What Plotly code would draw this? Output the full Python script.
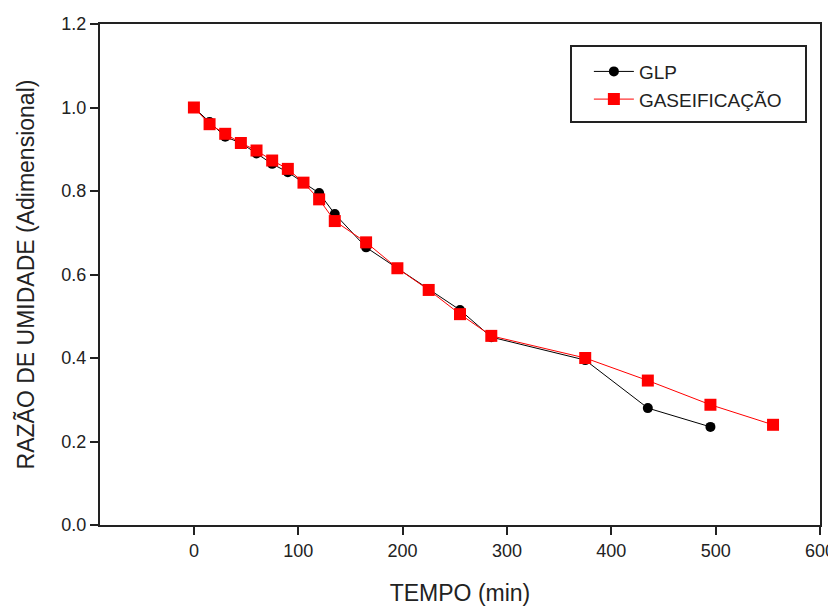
import plotly.graph_objects as go

tempo_glp = [0, 15, 30, 45, 60, 75, 90, 105, 120, 135, 165, 195, 225, 255, 285, 375, 435, 495]
glp = [1.0, 0.965, 0.93, 0.915, 0.89, 0.865, 0.845, 0.82, 0.795, 0.745, 0.665, 0.615, 0.565, 0.515, 0.45, 0.395, 0.28, 0.235]

tempo_gas = [0, 15, 30, 45, 60, 75, 90, 105, 120, 135, 165, 195, 225, 255, 285, 375, 435, 495, 555]
gas = [1.0, 0.96, 0.937, 0.915, 0.897, 0.873, 0.853, 0.82, 0.78, 0.728, 0.677, 0.615, 0.563, 0.505, 0.453, 0.4, 0.346, 0.288, 0.24]

xticks = [0, 100, 200, 300, 400, 500, 600]
yticks = [0.0, 0.2, 0.4, 0.6, 0.8, 1.0, 1.2]

FONT = "Liberation Sans, Arial"

fig = go.Figure()
fig.add_trace(go.Scatter(x=tempo_glp, y=glp, mode="lines+markers", name="GLP",
                         line=dict(color="black", width=1),
                         marker=dict(symbol="circle", size=10, color="black")))
fig.add_trace(go.Scatter(x=tempo_gas, y=gas, mode="lines+markers", name="GASEIFICAÇÃO",
                         line=dict(color="red", width=1),
                         marker=dict(symbol="square", size=12, color="red")))

axis_common = dict(showline=True, linecolor="#222", linewidth=2, mirror=True,
                   ticks="outside", ticklen=8, tickcolor="#222", tickwidth=2,
                   showgrid=False, zeroline=False, automargin=False,
                   tickfont=dict(family=FONT, size=18, color="#222"))

fig.update_layout(
    width=828, height=598,
    paper_bgcolor="white", plot_bgcolor="white",
    margin=dict(l=92, r=16, t=16, b=81),
    font=dict(family=FONT, color="#222"),
    xaxis=dict(range=[-90, 600], tickvals=xticks, ticktext=[str(v) for v in xticks],
               title=dict(text="TEMPO (min)", font=dict(size=23), standoff=25), **axis_common),
    yaxis=dict(range=[0, 1.2], tickvals=yticks, ticktext=[f"{v:.1f}" for v in yticks],
               title=dict(text="RAZÃO DE UMIDADE (Adimensional)", font=dict(size=23), standoff=20),
               **axis_common),
    legend=dict(x=0.679, y=0.943, xanchor="left", yanchor="top",
                borderwidth=0, bgcolor="rgba(0,0,0,0)",
                font=dict(size=19, family=FONT, color="#222"),
                tracegroupgap=0, itemwidth=40),
    shapes=[dict(type="rect", xref="paper", yref="paper",
                 x0=(571 - 100) / 720, x1=(806 - 100) / 720,
                 y0=(525 - 122) / 501, y1=(525 - 46) / 501,
                 line=dict(color="#222", width=2), fillcolor="rgba(0,0,0,0)")],
    showlegend=True,
)

fig.write_html("out.html")
